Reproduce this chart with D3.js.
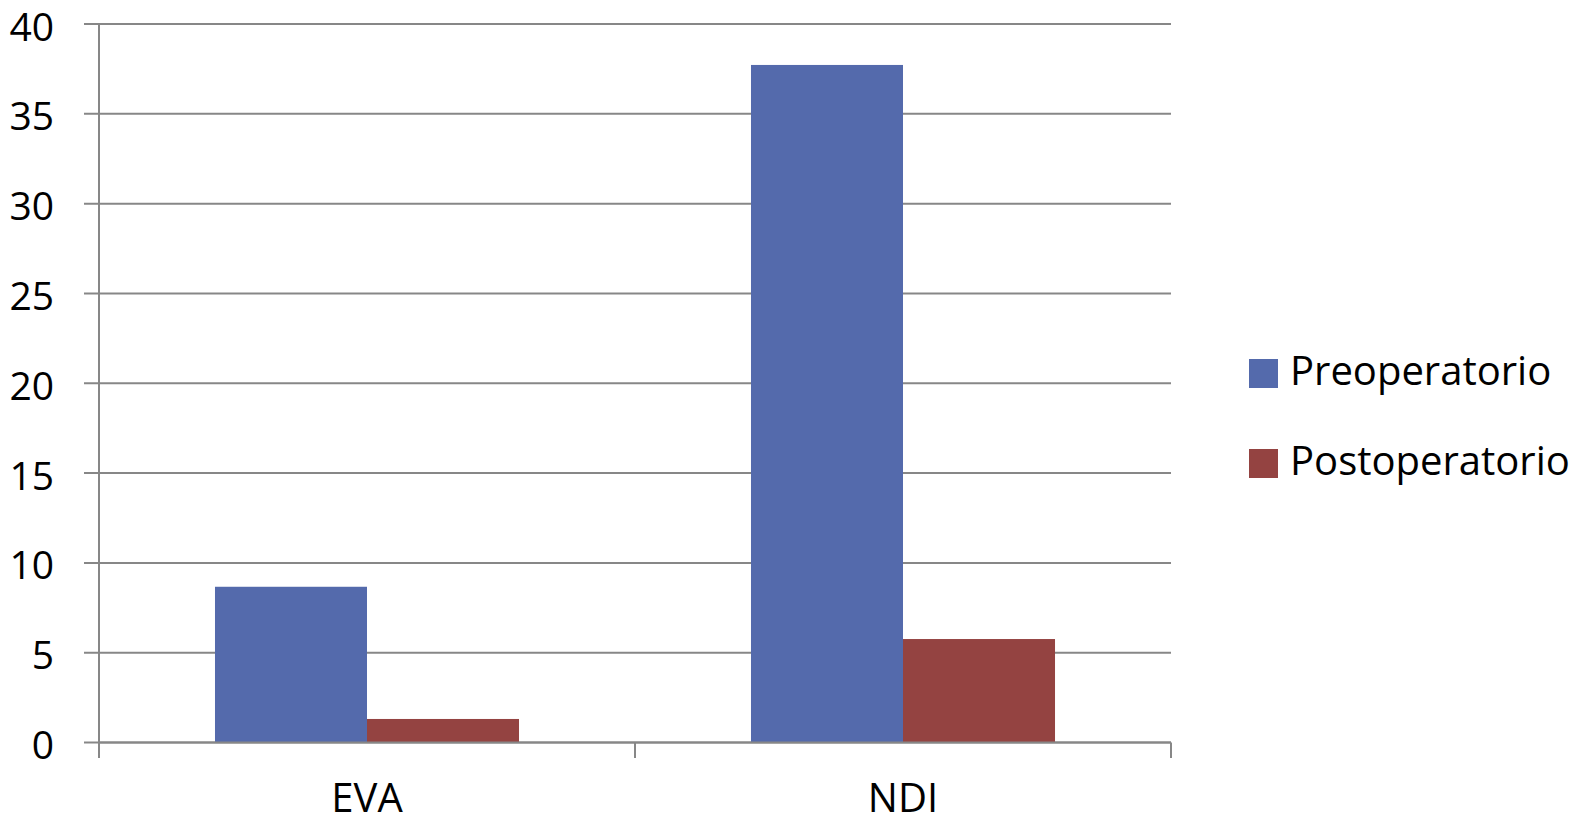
<!DOCTYPE html>
<html>
<head>
<meta charset="utf-8">
<script src="https://cdn.jsdelivr.net/npm/d3@7"></script>
<style>
  html, body { margin: 0; padding: 0; background: #ffffff; }
  svg { display: block; }
  text { font-family: "Open Sans", sans-serif; fill: #000; }
</style>
</head>
<body>
<svg id="chart" width="1591" height="825"></svg>
<script>
const categories = ["EVA", "NDI"];
const seriesNames = ["Preoperatorio", "Postoperatorio"];
const preoperatorio = [8.67, 37.72];
const postoperatorio = [1.31, 5.76];
const yTickValues = [0, 5, 10, 15, 20, 25, 30, 35, 40];
const yTickLabels = ["0", "5", "10", "15", "20", "25", "30", "35", "40"];
const colors = ["#546AAC", "#944341"];

(function () {
const svg = d3.select("#chart");
const pLeft = 99, pRight = 1171, pTop = 24, pBottom = 742.5;
const gridColor = "#878787";
const fontSize = 40;

const x = d3.scaleBand().domain(categories).range([pLeft, pRight]).padding(0);
const xInner = d3.scaleBand().domain(seriesNames).range([0, x.bandwidth()])
  .paddingInner(0).paddingOuter(0.763);
const y = d3.scaleLinear().domain([0, 40]).range([pBottom, pTop]);

// gridlines + y tick marks
svg.append("g").selectAll("line").data(yTickValues).join("line")
  .attr("x1", pLeft - 15).attr("x2", pRight)
  .attr("y1", d => y(d)).attr("y2", d => y(d))
  .attr("stroke", gridColor).attr("stroke-width", 2);

// y tick labels
svg.append("g").selectAll("text").data(yTickValues).join("text")
  .attr("x", 54).attr("y", d => y(d) + 16.5)
  .attr("text-anchor", "end")
  .style("font-size", "39px")
  .text((d, i) => yTickLabels[i]);

// bars
const seriesData = [preoperatorio, postoperatorio];
const bars = [];
categories.forEach((c, ci) => seriesNames.forEach((s, si) => bars.push({c, s, si, v: seriesData[si][ci]})));
svg.append("g").selectAll("rect").data(bars).join("rect")
  .attr("x", d => x(d.c) + xInner(d.s))
  .attr("width", xInner.bandwidth())
  .attr("y", d => y(d.v))
  .attr("height", d => y(0) - y(d.v))
  .attr("fill", d => colors[d.si]);

// y axis line
svg.append("line")
  .attr("x1", pLeft).attr("x2", pLeft).attr("y1", pTop).attr("y2", pBottom + 15.5)
  .attr("stroke", gridColor).attr("stroke-width", 2);
// x axis line
svg.append("line")
  .attr("x1", pLeft).attr("x2", pRight).attr("y1", pBottom).attr("y2", pBottom)
  .attr("stroke", gridColor).attr("stroke-width", 2);
// x category boundary ticks
const xBounds = categories.map(c => x(c)).concat([x(categories[categories.length - 1]) + x.bandwidth()]);
svg.append("g").selectAll("line").data(xBounds).join("line")
  .attr("x1", d => d).attr("x2", d => d)
  .attr("y1", pBottom).attr("y2", pBottom + 15.5)
  .attr("stroke", gridColor).attr("stroke-width", 2);

// x labels
svg.append("g").selectAll("text").data(categories).join("text")
  .attr("x", d => x(d) + x.bandwidth() / 2)
  .attr("y", 812)
  .attr("text-anchor", "middle")
  .style("font-size", fontSize + "px")
  .text(d => d);

// legend
const legend = svg.append("g");
const legendY = [359, 449];
seriesNames.forEach((s, i) => {
  legend.append("rect")
    .attr("x", 1249).attr("y", legendY[i])
    .attr("width", 29).attr("height", 29)
    .attr("fill", colors[i]);
  legend.append("text")
    .attr("x", 1290).attr("y", legendY[i] + 26)
    .style("font-size", fontSize + "px")
    .text(s);
});
})();
</script>
</body>
</html>
